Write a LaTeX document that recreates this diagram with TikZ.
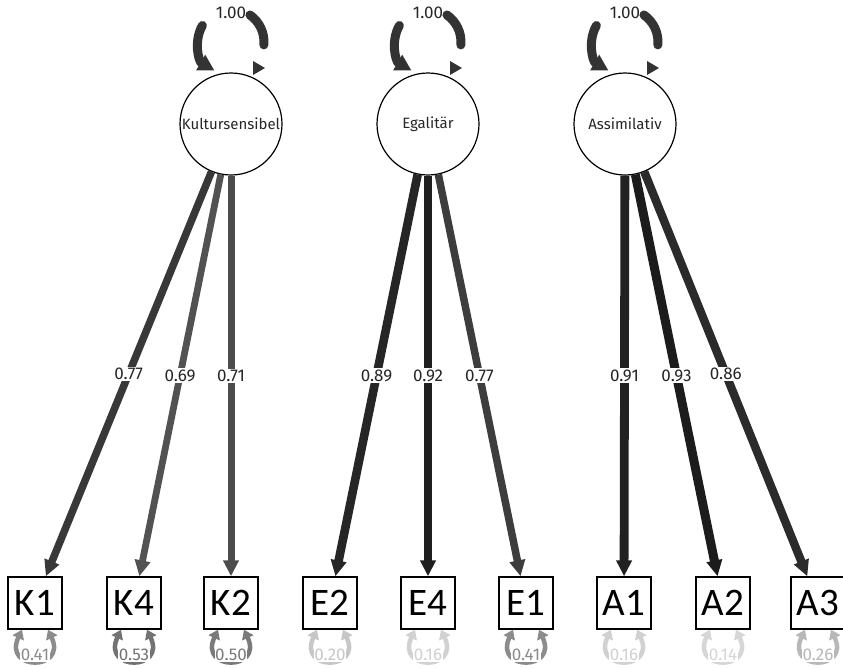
\documentclass[tikz,border=0pt]{standalone}
\usepackage{fontspec}
\setmainfont{Fira Sans}
\newfontfamily\boxfont{Carlito}
\usetikzlibrary{positioning,arrows.meta}

\tikzset{
  latent/.style={draw, circle, line width=1.2pt, minimum size=102pt, inner sep=0pt,
    font=\fontsize{15}{15}\selectfont, text=black!85},
  manifest/.style={draw, rectangle, line width=1.4pt, minimum width=54pt, minimum height=52pt,
    inner sep=0pt, font=\boxfont\fontsize{39}{39}\selectfont},
  load/.style={-{Triangle[length=16pt,width=15pt]}},
  wlabel/.style={fill=white, inner sep=1.5pt, font=\fontsize{17}{17}\selectfont, text=black!85},
  resid/.style={line width=4.5pt, {Triangle[length=9pt,width=12pt]}-{Triangle[length=9pt,width=12pt]}},
  reslabel/.style={fill=white, inner sep=0.5pt, font=\fontsize{17}{17}\selectfont},
  varloop/.style={line width=9pt, black!80, line cap=round}
}

\begin{document}
\begin{tikzpicture}[x=1pt, y=1pt]
    \useasboundingbox (0,0) rectangle (843,-667);

    % Latente Faktoren
    \node (kultur) [latent] at (231,-124) {Kultursensibel};
    \node (egal)   [latent] at (428,-124) {Egalitär};
    \node (assim)  [latent] at (625,-124) {Assimilativ};

    % Items
    \node (k1) [manifest] at (35,-603)  {K1};
    \node (k4) [manifest] at (134,-603) {K4};
    \node (k2) [manifest] at (231,-603) {K2};
    \node (e2) [manifest] at (330,-603) {E2};
    \node (e4) [manifest] at (428,-603) {E4};
    \node (e1) [manifest] at (526,-603) {E1};
    \node (a1) [manifest] at (624,-603) {A1};
    \node (a2) [manifest] at (723,-603) {A2};
    \node (a3) [manifest] at (818,-603) {A3};

    % Ladungen
    \draw[load, line width=7.5pt, black!78] (kultur) -- node[wlabel] {0.77} (k1);
    \draw[load, line width=6.8pt, black!68] (kultur) -- node[wlabel] {0.69} (k4);
    \draw[load, line width=7pt,   black!70] (kultur) -- node[wlabel] {0.71} (k2);
    \draw[load, line width=8.6pt, black!85] (egal)   -- node[wlabel] {0.89} (e2);
    \draw[load, line width=8.9pt, black!88] (egal)   -- node[wlabel] {0.92} (e4);
    \draw[load, line width=7.5pt, black!76] (egal)   -- node[wlabel] {0.77} (e1);
    \draw[load, line width=8.8pt, black!87] (assim)  -- node[wlabel] {0.91} (a1);
    \draw[load, line width=9pt,   black!89] (assim)  -- node[wlabel] {0.93} (a2);
    \draw[load, line width=8.4pt, black!83] (assim)  -- node[wlabel] {0.86} (a3);

    % Varianzen der Faktoren
    \foreach \l in {kultur,egal,assim} {
        \coordinate (\l-v) at ([yshift=82pt]\l.center);
        \node (\l-vl) [wlabel, fill=none] at ([yshift=111pt]\l.center) {1.00};
        \draw[varloop, {Triangle[length=16pt,width=17pt]}-] ([shift={(240:33pt)}]\l-v)
            arc[start angle=240, end angle=150, radius=33pt];
        \draw[varloop] ([shift={(55:33pt)}]\l-v) arc[start angle=55, end angle=-5, radius=33pt];
        \fill[black!80] ([shift={(22pt,63pt)}]\l.center) -- ++(12pt,-7pt) -- ++(-12pt,-7pt) -- cycle;
    }

    % Residualvarianzen
    \foreach \n/\v/\c in {k1/0.41/45, k4/0.53/55, k2/0.50/52, e2/0.20/22, e4/0.16/18,
                          e1/0.41/45, a1/0.16/18, a2/0.14/16, a3/0.26/28} {
        \draw[resid, black!\c] ([xshift=-13pt]\n.south) to[out=-115, in=-65, looseness=4.5]
            ([xshift=13pt]\n.south);
        \node (r\n) [reslabel, below=19pt of \n, text=black!\c] {\v};
    }
\end{tikzpicture}
\end{document}
